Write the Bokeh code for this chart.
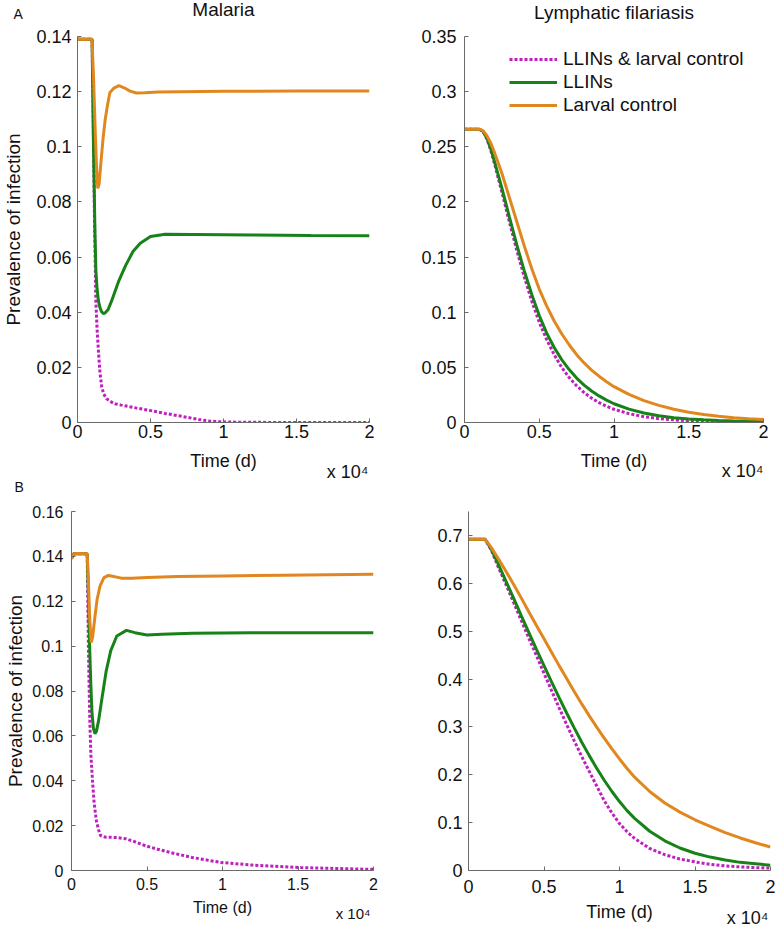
import numpy as np
from bokeh.plotting import figure
from bokeh.layouts import column, row
from bokeh.models import (FixedTicker, CustomJSTickFormatter, Legend, LegendItem, Range1d,
                          Title, LinearAxis)
from bokeh.embed import file_html
from bokeh.resources import INLINE

# ---------------- data (time in days) ----------------
series_names = ["LLINs & larval control", "LLINs", "Larval control"]
x_ticks = [0, 0.5, 1, 1.5, 2]

# Panel A, Malaria
malA_t_comb = [0, 1000, 1080, 1160, 1258, 1340, 1433, 1540, 1662, 1800, 1999, 2300, 2557,
               3000, 4000, 5027, 6000, 7490, 8300, 9065, 10000, 12000, 20000]
malA_y_comb = [0.139, 0.139, 0.11, 0.075, 0.044, 0.034, 0.026, 0.018, 0.0128, 0.0103, 0.0086,
               0.0075, 0.0068, 0.0063, 0.0053, 0.0043, 0.0033, 0.0019, 0.0011, 0.0005, 0.0002,
               0.00005, 0.0]
malA_t_llin = [0, 1000, 1080, 1145, 1200, 1260, 1340, 1435, 1550, 1650, 1770, 1900, 2100, 2330,
               2800, 3300, 3800, 4300, 5000, 6000, 8000, 12000, 16000, 20000]
malA_y_llin = [0.139, 0.139, 0.105, 0.085, 0.068, 0.055, 0.0485, 0.044, 0.0415, 0.0402, 0.0395,
               0.0398, 0.041, 0.044, 0.051, 0.057, 0.062, 0.065, 0.0675, 0.0683, 0.0682, 0.068,
               0.0678, 0.0677]
malA_t_larv = [0, 990, 1100, 1200, 1300, 1390, 1480, 1600, 1750, 1900, 2050, 2220, 2500, 2830,
               3200, 3600, 4040, 4600, 5500, 7000, 10000, 15000, 20000]
malA_y_larv = [0.139, 0.139, 0.125, 0.108, 0.093, 0.0849, 0.0865, 0.094, 0.103, 0.110, 0.115,
               0.1197, 0.1213, 0.1222, 0.1214, 0.1202, 0.1195, 0.1196, 0.1199, 0.12, 0.1201,
               0.1202, 0.1202]
malA_yticks = [0, 0.02, 0.04, 0.06, 0.08, 0.1, 0.12, 0.14]

# Panel A, Lymphatic filariasis
lfA_t = [0, 500, 1000, 1250, 1500, 1750, 2000, 2500, 3000, 3500, 4000, 4500, 5000, 5500, 6000,
         6500, 7000, 7500, 8000, 8500, 9000, 9500, 10000, 11000, 12000, 13000, 14000, 15000,
         16000, 17000, 18000, 19000, 20000]
lfA_y_comb = [0.266, 0.266, 0.266, 0.2635, 0.257, 0.247, 0.235, 0.209, 0.182, 0.156, 0.132,
              0.110, 0.091, 0.075, 0.0615, 0.050, 0.0408, 0.0333, 0.0271, 0.0221, 0.018, 0.0147,
              0.012, 0.008, 0.0053, 0.0035, 0.0024, 0.0016, 0.0011, 0.0008, 0.0006, 0.0004,
              0.0003]
lfA_y_llin = [0.266, 0.266, 0.266, 0.2638, 0.2578, 0.2485, 0.237, 0.2125, 0.1865, 0.161, 0.1375,
              0.116, 0.097, 0.081, 0.068, 0.057, 0.048, 0.0403, 0.0339, 0.0286, 0.0241, 0.0203,
              0.017, 0.0121, 0.0086, 0.0061, 0.0044, 0.0032, 0.0024, 0.0018, 0.0014, 0.0011,
              0.0009]
lfA_y_larv = [0.266, 0.266, 0.266, 0.2645, 0.260, 0.2535, 0.245, 0.226, 0.204, 0.182, 0.160,
              0.1395, 0.121, 0.1055, 0.092, 0.0805, 0.0705, 0.0615, 0.054, 0.0475, 0.042, 0.037,
              0.0325, 0.0255, 0.0199, 0.0155, 0.012, 0.0093, 0.0072, 0.0056, 0.0044, 0.0035,
              0.0028]
lfA_yticks = [0, 0.05, 0.1, 0.15, 0.2, 0.25, 0.3, 0.35]

# Panel B, Malaria
malB_t_comb = [0, 150, 1040, 1120, 1200, 1280, 1390, 1500, 1650, 1800, 1920, 2200, 2580, 3000,
               3570, 4200, 4900, 5700, 6550, 8000, 9860, 12000, 15200, 18000, 20000]
malB_y_comb = [0.139, 0.1412, 0.1412, 0.1, 0.07, 0.052, 0.04, 0.03, 0.022, 0.018, 0.0156, 0.0149,
               0.0148, 0.0147, 0.0142, 0.0128, 0.011, 0.0095, 0.008, 0.0058, 0.0036, 0.0024,
               0.0013, 0.0008, 0.0005]
malB_t_llin = [0, 150, 1040, 1120, 1200, 1280, 1360, 1450, 1550, 1650, 1800, 2000, 2300, 2600,
               3000, 3640, 4200, 5000, 6000, 8000, 12000, 20000]
malB_y_llin = [0.139, 0.1412, 0.1412, 0.122, 0.1, 0.083, 0.07, 0.0635, 0.061, 0.062, 0.067,
               0.076, 0.089, 0.098, 0.1045, 0.107, 0.106, 0.105, 0.1053, 0.1057, 0.106, 0.106]
malB_t_larv = [0, 150, 400, 1040, 1120, 1200, 1300, 1400, 1550, 1700, 1900, 2150, 2450, 2800,
               3300, 4000, 5000, 7000, 10000, 14000, 20000]
malB_y_larv = [0.139, 0.1412, 0.1413, 0.1412, 0.129, 0.113, 0.1016, 0.104, 0.113, 0.121, 0.127,
               0.1305, 0.1315, 0.131, 0.1303, 0.1303, 0.1306, 0.131, 0.1313, 0.1316, 0.132]
malB_yticks = [0, 0.02, 0.04, 0.06, 0.08, 0.1, 0.12, 0.14, 0.16]

# Panel B, Lymphatic filariasis
lfB_t = [0, 1100, 1500, 2000, 2500, 3000, 3500, 4000, 4500, 5000, 5500, 6000, 6500, 7000, 7500,
         8000, 8500, 9000, 9500, 10000, 10500, 11000, 12000, 13000, 14000, 15000, 16000, 17000,
         18000, 19000, 20000]
lfB_y_comb = [0.692, 0.692, 0.670, 0.632, 0.596, 0.559, 0.522, 0.485, 0.449, 0.412, 0.376, 0.340,
              0.305, 0.271, 0.238, 0.207, 0.176, 0.145, 0.12, 0.098, 0.081, 0.067, 0.046, 0.033,
              0.024, 0.018, 0.013, 0.0097, 0.0075, 0.006, 0.005]
lfB_y_llin = [0.692, 0.692, 0.672, 0.638, 0.603, 0.568, 0.532, 0.497, 0.462, 0.428, 0.394, 0.361,
              0.329, 0.298, 0.268, 0.24, 0.213, 0.188, 0.165, 0.144, 0.125, 0.109, 0.082, 0.062,
              0.047, 0.036, 0.028, 0.022, 0.017, 0.014, 0.011]
lfB_y_larv = [0.692, 0.692, 0.675, 0.650, 0.624, 0.597, 0.569, 0.540, 0.512, 0.484, 0.456, 0.428,
              0.401, 0.374, 0.348, 0.323, 0.299, 0.276, 0.254, 0.233, 0.213, 0.195, 0.165, 0.141,
              0.122, 0.106, 0.092, 0.079, 0.068, 0.058, 0.049]
lfB_yticks = [0, 0.1, 0.2, 0.3, 0.4, 0.5, 0.6, 0.7]

# ---------------- styling ----------------
MAG, GRN, ORG = "#BF1FBF", "#178217", "#E0881F"
FONT = "Liberation Sans"
TXT = "#111111"
AXC = "#6a6a6a"
FMT = CustomJSTickFormatter(code="return String(Number(tick.toFixed(6)));")
BLANK = CustomJSTickFormatter(code="return '';")
MULT = "x 10\u2074"


def title(text, size, align, offset, standoff, valign="bottom"):
    return Title(text=text, align=align, offset=offset, standoff=standoff,
                 vertical_align=valign, text_font=FONT, text_font_size=f"{size}px",
                 text_font_style="normal", text_color=TXT)


def top_spacer(p, extent):
    # invisible axis that reserves a fixed strip above the frame
    ax = LinearAxis(ticker=FixedTicker(ticks=[1]), formatter=BLANK,
                    axis_line_color=None, major_tick_line_color=None,
                    minor_tick_line_color=None, major_tick_in=0, major_tick_out=extent,
                    minor_tick_in=0, minor_tick_out=0, major_label_standoff=0,
                    major_label_text_font_size="0px")
    p.add_layout(ax, "above")


def panel(width, height, mbl, mbr, mbt, mbb, ymax, yticks, tfs, lfs, ylabel=None,
          xl_standoff=2, xal_standoff=5, yl_standoff=6, yal_standoff=9):
    p = figure(width=width, height=height, output_backend="svg", toolbar_location=None,
               title=None, x_range=Range1d(0, 2), y_range=Range1d(0, ymax),
               min_border_left=mbl, min_border_right=mbr, min_border_top=mbt,
               min_border_bottom=mbb)
    p.outline_line_color = None
    p.grid.visible = False
    p.background_fill_color = "white"
    p.border_fill_color = "white"
    p.xaxis.ticker = FixedTicker(ticks=x_ticks)
    p.yaxis.ticker = FixedTicker(ticks=yticks)
    p.xaxis.formatter = FMT
    p.yaxis.formatter = FMT
    p.axis.axis_line_color = AXC
    p.axis.major_tick_line_color = AXC
    p.axis.minor_tick_line_color = None
    p.axis.major_tick_in = 4
    p.axis.major_tick_out = 0
    p.axis.major_label_text_font = FONT
    p.axis.major_label_text_font_size = f"{tfs}px"
    p.axis.major_label_text_color = TXT
    p.axis.axis_label_text_font = FONT
    p.axis.axis_label_text_font_style = "normal"
    p.axis.axis_label_text_color = TXT
    p.xaxis.axis_label = "Time (d)"
    p.xaxis.axis_label_text_font_size = f"{lfs}px"
    p.xaxis.major_label_standoff = xl_standoff
    p.xaxis.axis_label_standoff = xal_standoff
    p.yaxis.major_label_standoff = yl_standoff
    if ylabel:
        p.yaxis.axis_label = ylabel
        p.yaxis.axis_label_text_font_size = "19px"
        p.yaxis.axis_label_standoff = yal_standoff
    return p


def draw(p, tc, yc, tl, yl, tv, yv):
    r1 = p.line(np.array(tc) / 1e4, yc, line_color=MAG, line_width=3, line_dash="3 2")
    r2 = p.line(np.array(tl) / 1e4, yl, line_color=GRN, line_width=3)
    r3 = p.line(np.array(tv) / 1e4, yv, line_color=ORG, line_width=3)
    return r1, r2, r3


# A, malaria: frame x 72..369, y 36..422
pA1 = panel(408, 503, 72, 39, 36, 81, 0.14, malA_yticks, 18, 18,
            ylabel="Prevalence of infection", xal_standoff=10)
draw(pA1, malA_t_comb, malA_y_comb, malA_t_llin, malA_y_llin, malA_t_larv, malA_y_larv)
top_spacer(pA1, 26)
pA1.add_layout(title("Malaria", 19, "center", 0, -18), "above")
pA1.add_layout(title("A", 14, "left", -64, -32), "above")
pA1.add_layout(title("B", 14, "left", -63, 10, "top"), "below")
pA1.add_layout(title(MULT, 18, "right", 1, -80, "top"), "below")

# A, LF: frame x 464..763, y 33..422
pA2 = panel(371, 503, 56, 16, 33, 81, 0.35, lfA_yticks, 18, 18, yl_standoff=8,
            xal_standoff=10)
rA = draw(pA2, lfA_t, lfA_y_comb, lfA_t, lfA_y_llin, lfA_t, lfA_y_larv)
top_spacer(pA2, 23)
pA2.add_layout(title("Lymphatic filariasis", 19, "center", 0, -18), "above")
pA2.add_layout(title(MULT, 18, "right", 0, -25, "top"), "below")
leg = Legend(items=[LegendItem(label=n, renderers=[r]) for n, r in zip(series_names, rA)],
             location=(45, 306), label_text_font=FONT, label_text_font_size="19px",
             label_text_color=TXT, glyph_width=48, glyph_height=20, label_height=20,
             label_standoff=6, spacing=1, padding=0, margin=0,
             border_line_color=None, background_fill_alpha=0)
pA2.add_layout(leg)

# B, malaria: frame x 71..373, y 511..870
pB1 = panel(408, 426, 71, 35, 8, 59, 0.16, malB_yticks, 16, 16,
            ylabel="Prevalence of infection", xl_standoff=7, xal_standoff=6, yl_standoff=8,
            yal_standoff=3)
draw(pB1, malB_t_comb, malB_y_comb, malB_t_llin, malB_y_llin, malB_t_larv, malB_y_larv)
pB1.add_layout(title(MULT, 15, "right", 3, -27, "top"), "below")

# B, LF: frame x 468..770, y 511..870
pB2 = panel(371, 426, 60, 9, 8, 59, 0.75, lfB_yticks, 18, 18, xl_standoff=9,
            xal_standoff=6, yl_standoff=6)
draw(pB2, lfB_t, lfB_y_comb, lfB_t, lfB_y_llin, lfB_t, lfB_y_larv)
pB2.add_layout(title(MULT, 18, "right", 2, -33, "top"), "below")

layout = column(row(pA1, pA2), row(pB1, pB2))

with open("out.html", "w") as f:
    f.write(file_html(layout, INLINE))
